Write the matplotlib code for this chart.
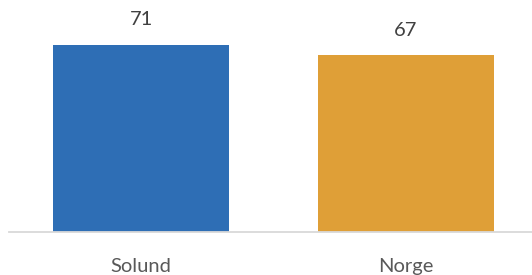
import matplotlib
matplotlib.use("Agg")
import matplotlib.pyplot as plt

categories = ["Solund", "Norge"]
values = [71, 67]
colors = ["#2E6EB5", "#DF9F37"]

plt.rcParams['font.family'] = ['Lato', 'DejaVu Sans']

W, H = 532, 275
fig = plt.figure(figsize=(W/100, H/100), dpi=100)
left = 9 / W
bottom = 1 - 232 / H
ax = fig.add_axes([left, bottom, 1 - left, 232 / H])

x = list(range(len(categories)))
bars = ax.bar(x, values, width=0.667, color=colors, zorder=2)
ax.set_xlim(-0.5, 1.477)
ax.set_ylim(0, 88)

for xi, v in zip(x, values):
    ax.text(xi, v + 6.3, str(v), ha='center', va='bottom', fontsize=14.5, color='#404040')

ax.set_xticks(x)
ax.set_xticklabels(categories, fontsize=14.5, color='#595959')
ax.tick_params(axis='x', length=0, pad=19)
ax.set_yticks([])
for s in ['top', 'right', 'left']:
    ax.spines[s].set_visible(False)
ax.spines['bottom'].set_color('#D9D9D9')
ax.spines['bottom'].set_linewidth(1.3)
ax.spines['bottom'].set_zorder(3)

fig.savefig("out.png", dpi=100)
